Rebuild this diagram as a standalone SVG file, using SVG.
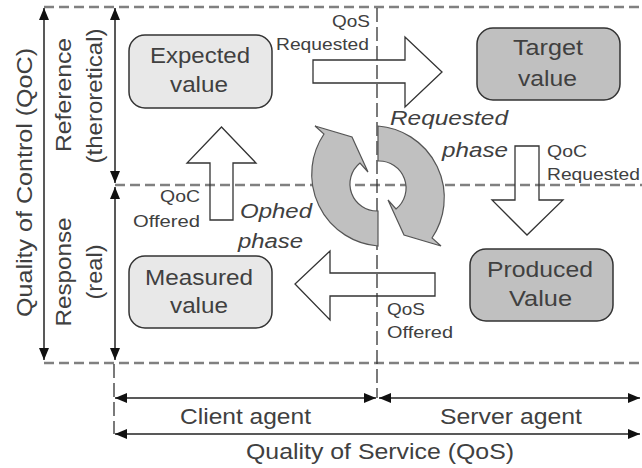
<svg xmlns="http://www.w3.org/2000/svg" xmlns:xlink="http://www.w3.org/1999/xlink" width="642" height="468" viewBox="0 0 642 468">
<style>
.bg{fill:#ffffff}
.dash{stroke:#808080;stroke-width:2.5;stroke-dasharray:10 5;fill:none}
.vdash{stroke:#333333;stroke-width:1.3;stroke-dasharray:14 5;fill:none}
.dim{stroke:#222222;stroke-width:1.5;fill:none;marker-start:url(#ah);marker-end:url(#ah)}
.box{stroke:#333333;stroke-width:1.5}
.light{fill:#e8e8e8}
.dark{fill:#c0c0c0}
.blk{fill:none;stroke:#333333;stroke-width:1.3;stroke-linejoin:miter}
.cyc{fill:#c0c0c0;stroke:#555555;stroke-width:1.2}
text{font-family:"Liberation Sans",Arial,sans-serif;fill:#404040}
.big{font-size:22px}
.sm{font-size:17px}
.it{font-size:20px;font-style:italic}
.mid{text-anchor:middle}
.end{text-anchor:end}
</style>
<defs>
<marker id="ah" viewBox="0 0 12 10" refX="12" refY="5" markerWidth="12" markerHeight="10" markerUnits="userSpaceOnUse" orient="auto-start-reverse">
<path d="M0,0 L12,5 L0,10 Z" fill="#111111"/>
</marker>
<path id="cycpiece" d="M378 246 A72 72 0 0 1 324 134 L315 126 L352 137 L368 172 L360 163 A27 27 0 0 0 378 211 Z"/>
</defs>
<rect class="bg" x="0" y="0" width="642" height="468"/>

<g id="frame">
<line class="dash" x1="44" y1="7" x2="642" y2="7"/>
<line class="dash" x1="115" y1="185" x2="642" y2="185"/>
<line class="dash" x1="44" y1="363" x2="642" y2="363"/>
<line class="vdash" x1="114" y1="364" x2="114" y2="434"/>
<line class="vdash" x1="377" y1="8" x2="377" y2="398"/>
</g>

<g id="dimensions">
<line class="dim" x1="44" y1="8" x2="44" y2="360"/>
<line class="dim" x1="115" y1="8" x2="115" y2="183"/>
<line class="dim" x1="115" y1="187" x2="115" y2="360"/>
<line class="dim" x1="115" y1="398" x2="376" y2="398"/>
<line class="dim" x1="379" y1="398" x2="640" y2="398"/>
<line class="dim" x1="115" y1="434" x2="640" y2="434"/>
<text class="big mid" transform="translate(32,182.5) rotate(-90)" textLength="269" lengthAdjust="spacingAndGlyphs">Quality of Control (QoC)</text>
<text class="big mid" transform="translate(71,95) rotate(-90)" textLength="114" lengthAdjust="spacingAndGlyphs">Reference</text>
<text class="big mid" transform="translate(102,96) rotate(-90)" textLength="135" lengthAdjust="spacingAndGlyphs">(theroretical)</text>
<text class="big mid" transform="translate(71,272) rotate(-90)" textLength="109" lengthAdjust="spacingAndGlyphs">Response</text>
<text class="big mid" transform="translate(102,272) rotate(-90)" textLength="55" lengthAdjust="spacingAndGlyphs">(real)</text>
<text class="big mid" x="245.5" y="424" textLength="131" lengthAdjust="spacingAndGlyphs">Client agent</text>
<text class="big mid" x="511" y="424" textLength="142" lengthAdjust="spacingAndGlyphs">Server agent</text>
<text class="big mid" x="380" y="459" textLength="268" lengthAdjust="spacingAndGlyphs">Quality of Service (QoS)</text>
</g>

<g id="node-expected">
<rect class="box light" x="129" y="35" width="143" height="73" rx="16"/>
<text class="big mid" x="200" y="63" textLength="100" lengthAdjust="spacingAndGlyphs">Expected</text>
<text class="big mid" x="199" y="92" textLength="58" lengthAdjust="spacingAndGlyphs">value</text>
</g>
<g id="node-target">
<rect class="box dark" x="477" y="28" width="143" height="72" rx="16"/>
<text class="big mid" x="548" y="55" textLength="70" lengthAdjust="spacingAndGlyphs">Target</text>
<text class="big mid" x="547.5" y="86" textLength="59" lengthAdjust="spacingAndGlyphs">value</text>
</g>
<g id="node-measured">
<rect class="box light" x="129" y="256" width="143" height="72" rx="16"/>
<text class="big mid" x="199" y="285" textLength="108" lengthAdjust="spacingAndGlyphs">Measured</text>
<text class="big mid" x="199" y="313" textLength="58" lengthAdjust="spacingAndGlyphs">value</text>
</g>
<g id="node-produced">
<rect class="box dark" x="470" y="249" width="143" height="72" rx="16"/>
<text class="big mid" x="540" y="277" textLength="106" lengthAdjust="spacingAndGlyphs">Produced</text>
<text class="big mid" x="540.5" y="306" textLength="63" lengthAdjust="spacingAndGlyphs">Value</text>
</g>

<g id="connectors">
<path class="blk" d="M313 60 L405 60 L405 37 L442 72 L405 107 L405 83 L313 83 Z"/>
<path class="blk" d="M515 146 L539 146 L539 200 L563 200 L527 235 L492 200 L515 200 Z"/>
<path class="blk" d="M435 273 L330 273 L330 251 L295 284 L330 320 L330 296 L435 296 Z"/>
<path class="blk" d="M210 220 L210 163 L187 163 L221.5 127 L256 163 L233 163 L233 220 Z"/>
<use class="cyc" xlink:href="#cycpiece"/>
<use class="cyc" xlink:href="#cycpiece" transform="rotate(180 378 186)"/>
<text class="sm end" x="370" y="27" textLength="38" lengthAdjust="spacingAndGlyphs">QoS</text>
<text class="sm end" x="369" y="50" textLength="93" lengthAdjust="spacingAndGlyphs">Requested</text>
<text class="sm" x="547" y="157" textLength="40" lengthAdjust="spacingAndGlyphs">QoC</text>
<text class="sm" x="547" y="180" textLength="93" lengthAdjust="spacingAndGlyphs">Requested</text>
<text class="sm end" x="200" y="202" textLength="40" lengthAdjust="spacingAndGlyphs">QoC</text>
<text class="sm end" x="200" y="227" textLength="67" lengthAdjust="spacingAndGlyphs">Offered</text>
<text class="sm" x="387" y="315" textLength="38" lengthAdjust="spacingAndGlyphs">QoS</text>
<text class="sm" x="387" y="338" textLength="66" lengthAdjust="spacingAndGlyphs">Offered</text>
<text class="it" x="390" y="125" textLength="118" lengthAdjust="spacingAndGlyphs">Requested</text>
<text class="it" x="442" y="157" textLength="66" lengthAdjust="spacingAndGlyphs">phase</text>
<text class="it" x="240" y="218" textLength="72" lengthAdjust="spacingAndGlyphs">Ophed</text>
<text class="it" x="238" y="248" textLength="65" lengthAdjust="spacingAndGlyphs">phase</text>
</g>
</svg>
